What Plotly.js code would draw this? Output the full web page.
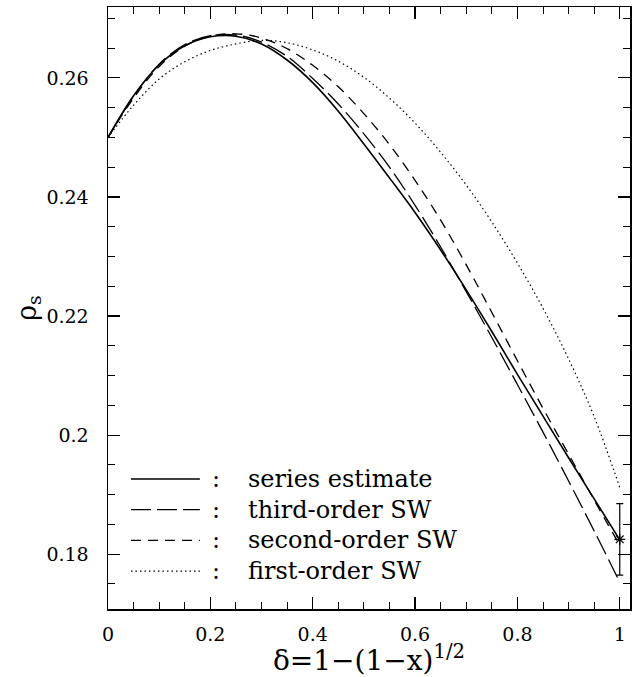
<!DOCTYPE html>
<html>
<head>
<meta charset="utf-8">
<script src="https://cdn.plot.ly/plotly-3.0.1.min.js"></script>
<style>
html,body{margin:0;padding:0;background:#fff;}
#chart{width:639px;height:677px;}
</style>
</head>
<body>
<div id="chart"></div>
<script>
// delta values (x)
const delta = [0, 0.05, 0.1, 0.15, 0.2, 0.25, 0.3, 0.35, 0.4, 0.45, 0.5,
               0.55, 0.6, 0.65, 0.7, 0.75, 0.8, 0.85, 0.9, 0.95, 1.0];
// rho_s curves
const seriesEstimate = [0.2500, 0.2570, 0.2622, 0.2654, 0.2669, 0.2670, 0.2657, 0.2630, 0.2592, 0.2544, 0.2489,
                        0.2432, 0.2374, 0.2311, 0.2244, 0.2174, 0.2102, 0.2032, 0.1962, 0.1893, 0.1824];
const thirdOrder     = [0.2500, 0.2569, 0.2623, 0.2656, 0.2671, 0.2672, 0.2660, 0.2636, 0.2599, 0.2556, 0.2506,
                        0.2450, 0.2386, 0.2316, 0.2241, 0.2164, 0.2085, 0.2005, 0.1923, 0.1839, 0.1753];
const secondOrder    = [0.2500, 0.2566, 0.2619, 0.2653, 0.2670, 0.2674, 0.2667, 0.2649, 0.2621, 0.2585, 0.2540,
                        0.2488, 0.2428, 0.2361, 0.2286, 0.2206, 0.2125, 0.2045, 0.1968, 0.1891, 0.1815];
const firstOrder     = [0.2500, 0.2554, 0.2598, 0.2627, 0.2646, 0.2657, 0.2663, 0.2659, 0.2647, 0.2628, 0.2601,
                        0.2566, 0.2524, 0.2475, 0.2420, 0.2358, 0.2289, 0.2213, 0.2128, 0.2031, 0.1912];
// exact point with error bar at delta = 1
const pointX = [1.0];
const pointY = [0.1825];
const pointErr = [0.006];

const legendLabels = ["series estimate", "third-order SW", "second-order SW", "first-order SW"];
const xTickVals = [0, 0.2, 0.4, 0.6, 0.8, 1];
const xTickText = ["0", "0.2", "0.4", "0.6", "0.8", "1"];
const yTickVals = [0.18, 0.2, 0.22, 0.24, 0.26];
const yTickText = ["0.18", "0.2", "0.22", "0.24", "0.26"];

const FONT = "DejaVu Serif";
const styles = [
  {width: 1.6, dash: "solid"},
  {width: 1.3, dash: "20px,6px"},
  {width: 1.3, dash: "10px,7px"},
  {width: 1.2, dash: "1.5px,3px"}
];
const curves = [seriesEstimate, thirdOrder, secondOrder, firstOrder];

const traces = curves.map((ys, i) => ({
  x: delta, y: ys, type: "scatter", mode: "lines",
  line: {color: "#000", width: styles[i].width, dash: styles[i].dash, shape: "spline", smoothing: 1},
  hoverinfo: "skip", showlegend: false
}));
traces.push({
  x: pointX, y: pointY, type: "scatter", mode: "markers",
  marker: {symbol: "asterisk-open", size: 9, color: "#000", line: {color: "#000", width: 1.2}},
  error_y: {type: "data", array: pointErr, visible: true, color: "#000", thickness: 1.2, width: 3.5},
  showlegend: false, hoverinfo: "skip"
});

// legend drawn manually (paper coords)
const rowY = [0.216, 0.165, 0.114, 0.063];
const shapes = [];
const annotations = [];
rowY.forEach((yy, i) => {
  shapes.push({type: "line", xref: "paper", yref: "paper", x0: 0.044, x1: 0.176, y0: yy, y1: yy,
    line: {color: "#000", width: styles[i].width, dash: styles[i].dash}});
  annotations.push({xref: "paper", yref: "paper", x: 0.207, y: yy, text: ":", showarrow: false,
    xanchor: "center", yanchor: "middle", font: {family: FONT, size: 24, color: "#000"}});
  annotations.push({xref: "paper", yref: "paper", x: 0.264, y: yy, text: legendLabels[i], showarrow: false,
    xanchor: "left", yanchor: "middle", font: {family: FONT, size: 24, color: "#000"}});
});

const layout = {
  width: 639, height: 677,
  margin: {l: 108, r: 9, t: 7, b: 68, pad: 0},
  paper_bgcolor: "#fff", plot_bgcolor: "#fff",
  showlegend: false,
  font: {family: FONT, color: "#000", size: 19},
  xaxis: {
    range: [0, 1.02], showgrid: false, zeroline: false,
    showline: true, linecolor: "#000", linewidth: 1.5, mirror: "allticks",
    ticks: "inside", ticklen: 12, tickwidth: 1.2, tickcolor: "#000",
    tickmode: "array", tickvals: xTickVals, ticktext: xTickText,
    ticklabelstandoff: 8,
    tickfont: {family: FONT, size: 19, color: "#000"},
    minor: {dtick: 0.05, ticks: "inside", ticklen: 7, tickwidth: 1, tickcolor: "#000", showgrid: false},
    title: {text: "δ=1−(1−x)<sup>1/2</sup>", font: {family: FONT, size: 28, color: "#000"}, standoff: 2}
  },
  yaxis: {
    range: [0.1708, 0.2719], showgrid: false, zeroline: false,
    showline: true, linecolor: "#000", linewidth: 1.5, mirror: "allticks",
    ticks: "inside", ticklen: 12, tickwidth: 1.2, tickcolor: "#000",
    tickmode: "array", tickvals: yTickVals, ticktext: yTickText,
    ticklabelstandoff: 14,
    tickfont: {family: FONT, size: 19, color: "#000"},
    minor: {dtick: 0.005, ticks: "inside", ticklen: 7, tickwidth: 1, tickcolor: "#000", showgrid: false},
    title: {text: "ρ<sub>s</sub>", font: {family: FONT, size: 27, color: "#000"}, standoff: 2}
  },
  shapes: shapes,
  annotations: annotations
};

Plotly.newPlot("chart", traces, layout, {staticPlot: true, displayModeBar: false});
</script>
</body>
</html>
